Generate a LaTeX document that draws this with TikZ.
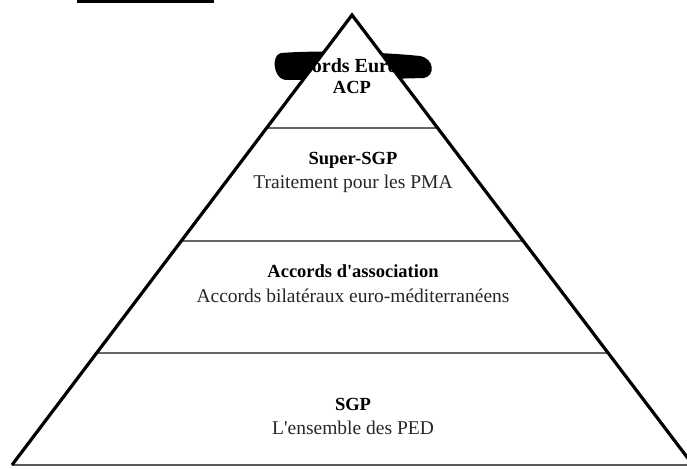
\documentclass[tikz,border=0pt]{standalone}
\usepackage{fontspec}
\setmainfont{Liberation Serif}[Ligatures=TeXOff]
\begin{document}
\begin{tikzpicture}[x=1pt,y=-1pt,
  edge/.style={line width=3.2pt,line join=miter},
  divider/.style={draw=black!60,line width=1.3pt},
  title/.style={font=\fontsize{18.5}{20}\selectfont\bfseries,anchor=center,inner sep=0pt},
  toptitle/.style={font=\fontsize{20}{22}\selectfont\bfseries,anchor=center,inner sep=0pt},
  sub/.style={font=\fontsize{19.5}{21}\selectfont,anchor=center,inner sep=0pt,text=black!85}]
\useasboundingbox (0,0) rectangle (687,468);
\clip (0,0) rectangle (687,468);
% underline at top
\draw[line width=2.8pt] (77,1.5) -- (214,1.5);
% scribble blob
\fill[black] (281,53) .. controls (320,50) and (380,52) .. (420,56)
  .. controls (435,59) and (435,76) .. (424,78)
  .. controls (390,79) and (330,80) .. (285,80)
  .. controls (273,78) and (271,55) .. (281,53) -- cycle;
% pyramid
\coordinate (apex) at (352,15);
\coordinate (bl) at (12,465);
\coordinate (br) at (693,465);
\fill[white] (apex) -- (bl) -- (br) -- cycle;
\draw[draw=black!65,line width=2pt] (bl) -- (br);
% dividers
\coordinate (d1l) at (266.6,128); \coordinate (d1r) at (437.9,128);
\coordinate (d2l) at (181.0,241); \coordinate (d2r) at (523.6,241);
\coordinate (d3l) at (96.1,353);  \coordinate (d3r) at (608.4,353);
\draw[divider] (d1l) -- (d1r);
\draw[divider] (d2l) -- (d2r);
\draw[divider] (d3l) -- (d3r);
\draw[edge] (bl) -- (apex) -- (br);
% texts
\node[toptitle] (t1) at (342,66) {Accords Euro-};
\node[title] (t1b) at (352,87) {ACP};
\node[title] (t2) at (353,160) {Super-SGP};
\node[sub] (t2b) at (353,184) {Traitement pour les PMA};
\node[title] (t3) at (353,271) {Accords d'association};
\node[sub] (t3b) at (353,296) {Accords bilatéraux euro-méditerranéens};
\node[title] (t4) at (353,404) {SGP};
\node[sub] (t4b) at (353,428) {L'ensemble des PED};
\end{tikzpicture}
\end{document}
